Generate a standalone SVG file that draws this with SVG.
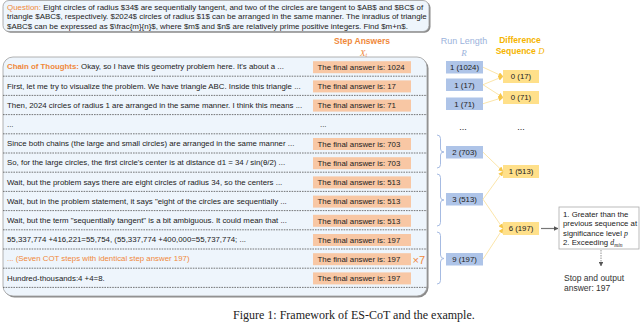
<svg xmlns="http://www.w3.org/2000/svg" width="640" height="322" viewBox="0 0 640 322">
<style>
text{font-family:"Liberation Sans",Arial,sans-serif;fill:#222}
.q{font-size:7.95px}
.row{font-size:7.85px}
.or{fill:#f0883a}
.ans{fill:#f8c7a4}
.rl{fill:#aec4e8}
.df{fill:#ffe08a}
.bx{font-size:7.8px;text-anchor:middle}
.dash{stroke:#555;stroke-width:0.8;stroke-dasharray:1.6 1}
.con{stroke:#fbe2a0;stroke-width:0.9;fill:none}
.brace{stroke:#a6bbe2;stroke-width:1;fill:none}
.serif{font-family:"Liberation Serif","Times New Roman",serif;font-style:italic}
</style>
<defs>
<marker id="ya" viewBox="0 0 6 6" refX="5.5" refY="3" markerWidth="5" markerHeight="5" orient="auto" markerUnits="userSpaceOnUse"><path d="M0,0 L6,3 L0,6 z" fill="#f5c64a"/></marker>
<marker id="ga" viewBox="0 0 6 6" refX="5.5" refY="3" markerWidth="4.5" markerHeight="4.5" orient="auto" markerUnits="userSpaceOnUse"><path d="M0,0 L6,3 L0,6 z" fill="#555"/></marker>
</defs>

<g id="question">
<rect x="4.5" y="1.8" width="426" height="31" rx="6" fill="#8a8a8a"/>
<rect x="3" y="0.5" width="426" height="31" rx="6" fill="#eef5fc" stroke="#9a9a9a" stroke-width="0.8"/>
<text class="q" x="7" y="10"><tspan class="or">Question:</tspan> Eight circles of radius $34$ are sequentially tangent, and two of the circles are tangent to $AB$ and $BC$ of</text>
<text class="q" x="7" y="19.4">triangle $ABC$, respectively. $2024$ circles of radius $1$ can be arranged in the same manner. The inradius of triangle</text>
<text class="q" x="7" y="28.7">$ABC$ can be expressed as $\frac{m}{n}$, where $m$ and $n$ are relatively prime positive integers. Find $m+n$.</text>
</g>

<g id="headers">
<text x="362" y="44" text-anchor="middle" font-size="8.5" font-weight="bold" style="fill:#f0883a">Step Answers</text>
<text x="360" y="55.5" class="serif" font-size="9" style="fill:#f0883a">X<tspan font-size="6" dy="1.5">t</tspan></text>
<text x="464" y="44" text-anchor="middle" font-size="9" style="fill:#9cb3dc">Run Length</text>
<text x="464" y="55.5" text-anchor="middle" class="serif" font-size="9" style="fill:#9cb3dc">R</text>
<text x="520" y="43" text-anchor="middle" font-size="8.5" font-weight="bold" style="fill:#f5b400">Difference</text>
<text x="520" y="53.5" text-anchor="middle" font-size="8.5" font-weight="bold" style="fill:#f5b400">Sequence <tspan class="serif" font-weight="normal">D</tspan></text>
</g>

<g id="cot-panel">
<rect x="4.5" y="58.5" width="424" height="239" rx="10" fill="#8a8a8a"/>
<rect x="3" y="57" width="424" height="239" rx="10" fill="#eef5fc" stroke="#a0a0a0" stroke-width="0.8"/>
<line class="dash" x1="3" y1="76.2" x2="427" y2="76.2"/>
<line class="dash" x1="3" y1="95.4" x2="427" y2="95.4"/>
<line class="dash" x1="3" y1="114.6" x2="427" y2="114.6"/>
<line class="dash" x1="3" y1="133.8" x2="427" y2="133.8"/>
<line class="dash" x1="3" y1="153" x2="427" y2="153"/>
<line class="dash" x1="3" y1="172.2" x2="427" y2="172.2"/>
<line class="dash" x1="3" y1="191.4" x2="427" y2="191.4"/>
<line class="dash" x1="3" y1="210.6" x2="427" y2="210.6"/>
<line class="dash" x1="3" y1="229.8" x2="427" y2="229.8"/>
<line class="dash" x1="3" y1="249" x2="427" y2="249"/>
<line class="dash" x1="3" y1="268.2" x2="427" y2="268.2"/>
<line class="dash" x1="3" y1="287.4" x2="427" y2="287.4"/>

<text class="row" x="7" y="69.4"><tspan class="or" font-weight="bold">Chain of Thoughts:</tspan> Okay, so I have this geometry problem here. It's about a ...</text>
<text class="row" x="7" y="88.6">First, let me try to visualize the problem. We have triangle ABC. Inside this triangle ...</text>
<text class="row" x="7" y="107.8">Then, 2024 circles of radius 1 are arranged in the same manner. I think this means ...</text>
<text class="row" x="7" y="127">...</text>
<text class="row" x="7" y="146.2">Since both chains (the large and small circles) are arranged in the same manner ...</text>
<text class="row" x="7" y="165.4">So, for the large circles, the first circle's center is at distance d1 = 34 / sin(θ/2) ...</text>
<text class="row" x="7" y="184.6">Wait, but the problem says there are eight circles of radius 34, so the centers ...</text>
<text class="row" x="7" y="203.8">Wait, but in the problem statement, it says "eight of the circles are sequentially ...</text>
<text class="row" x="7" y="223">Wait, but the term "sequentially tangent" is a bit ambiguous. It could mean that ...</text>
<text class="row" x="7" y="242.2">55,337,774 +416,221=55,754,  (55,337,774 +400,000=55,737,774; ...</text>
<text class="row or" x="7" y="261.4">... (Seven COT steps with identical step answer 197)</text>
<text class="row" x="7" y="280.6">Hundred-thousands:4 +4=8.</text>
</g>

<g id="step-answers">
<rect class="ans" x="313" y="61.2" width="98" height="12"/><text class="row" x="317.5" y="70">The final answer is: 1024</text>
<rect class="ans" x="313" y="80.4" width="98" height="12"/><text class="row" x="317.5" y="89.2">The final answer is: 17</text>
<rect class="ans" x="313" y="99.6" width="98" height="12"/><text class="row" x="317.5" y="108.4">The final answer is: 71</text>
<text class="row" x="320" y="127.4">...</text>
<rect class="ans" x="313" y="138" width="98" height="12"/><text class="row" x="317.5" y="146.8">The final answer is: 703</text>
<rect class="ans" x="313" y="157.2" width="98" height="12"/><text class="row" x="317.5" y="166">The final answer is: 703</text>
<rect class="ans" x="313" y="176.4" width="98" height="12"/><text class="row" x="317.5" y="185.2">The final answer is: 513</text>
<rect class="ans" x="313" y="195.6" width="98" height="12"/><text class="row" x="317.5" y="204.4">The final answer is: 513</text>
<rect class="ans" x="313" y="214.8" width="98" height="12"/><text class="row" x="317.5" y="223.6">The final answer is: 513</text>
<rect class="ans" x="313" y="234" width="98" height="12"/><text class="row" x="317.5" y="242.8">The final answer is: 197</text>
<rect class="ans" x="313" y="253.2" width="98" height="12"/><text class="row" x="317.5" y="262">The final answer is: 197</text>
<text x="412.5" y="264" font-size="11" style="fill:#f0883a">×7</text>
<rect class="ans" x="313" y="272.4" width="98" height="12"/><text class="row" x="317.5" y="281.2">The final answer is: 197</text>
</g>

<g id="braces">
<path class="brace" d="M437,135 Q440.5,135 440.5,138.5 L440.5,149 Q440.5,152 444,152 Q440.5,152 440.5,155 L440.5,164.5 Q440.5,168 437,168"/>
<path class="brace" d="M437,174 Q440.5,174 440.5,177.5 L440.5,197 Q440.5,200 444,200 Q440.5,200 440.5,203 L440.5,222.5 Q440.5,226 437,226"/>
<path class="brace" d="M437,232 Q440.5,232 440.5,235.5 L440.5,255 Q440.5,258.5 444,258.5 Q440.5,258.5 440.5,262 L440.5,280.5 Q440.5,284 437,284"/>
</g>

<g id="run-length">
<g id="r1"><rect class="rl" x="446" y="61" width="37" height="12.5"/><text class="bx" x="464.5" y="70">1 (1024)</text></g>
<g id="r2"><rect class="rl" x="446" y="78.5" width="37" height="12.5"/><text class="bx" x="464.5" y="87.5">1 (17)</text></g>
<g id="r3"><rect class="rl" x="446" y="97.5" width="37" height="12.5"/><text class="bx" x="464.5" y="106.5">1 (71)</text></g>
<text x="463" y="130" font-size="9" text-anchor="middle">...</text>
<g id="r4"><rect class="rl" x="446" y="146" width="37" height="12.5"/><text class="bx" x="464.5" y="155">2 (703)</text></g>
<g id="r5"><rect class="rl" x="446" y="193" width="37" height="12.5"/><text class="bx" x="464.5" y="202">3 (513)</text></g>
<g id="r6"><rect class="rl" x="446" y="253" width="37" height="12.5"/><text class="bx" x="464.5" y="262">9 (197)</text></g>
</g>

<g id="difference">
<g id="d1"><rect class="df" x="503" y="70" width="36" height="13"/><text class="bx" x="521" y="79.2">0 (17)</text></g>
<g id="d2"><rect class="df" x="503" y="91" width="36" height="13"/><text class="bx" x="521" y="100.2">0 (71)</text></g>
<text x="521" y="130" font-size="9" text-anchor="middle">...</text>
<g id="d3"><rect class="df" x="503" y="165" width="36" height="13"/><text class="bx" x="521" y="174.2">1 (513)</text></g>
<g id="d4"><rect class="df" x="503" y="222" width="36" height="13"/><text class="bx" x="521" y="231.2">6 (197)</text></g>
</g>

<g id="connectors">
<line class="con" x1="483" y1="67.2" x2="503" y2="76.5" marker-end="url(#ya)"/>
<line class="con" x1="483" y1="84.7" x2="503" y2="76.5" marker-end="url(#ya)"/>
<line class="con" x1="483" y1="84.7" x2="503" y2="97.5" marker-end="url(#ya)"/>
<line class="con" x1="483" y1="103.7" x2="503" y2="97.5" marker-end="url(#ya)"/>
<line class="con" x1="483" y1="152.2" x2="503" y2="171.5" marker-end="url(#ya)"/>
<line class="con" x1="483" y1="199.2" x2="503" y2="171.5" marker-end="url(#ya)"/>
<line class="con" x1="483" y1="199.2" x2="503" y2="228.5" marker-end="url(#ya)"/>
<line class="con" x1="483" y1="259.2" x2="503" y2="228.5" marker-end="url(#ya)"/>
<line x1="541" y1="228.5" x2="558" y2="228.5" stroke="#777" stroke-width="1.2" marker-end="url(#ga)"/>
<line x1="601" y1="250" x2="601" y2="266" stroke="#777" stroke-width="0.8" stroke-dasharray="1.5 1" marker-end="url(#ga)"/>
</g>

<g id="criteria">
<rect x="559" y="207" width="80" height="42" fill="#fff" stroke="#aaa" stroke-width="0.8"/>
<text x="563" y="216.5" font-size="7.8">1. Greater than the</text>
<text x="563" y="226" font-size="7.8">previous sequence at</text>
<text x="563" y="235.5" font-size="7.8">significance level <tspan class="serif">p</tspan></text>
<text x="563" y="245" font-size="7.8">2. Exceeding <tspan class="serif">d<tspan font-size="5.5" dy="1.5">min</tspan></tspan></text>
</g>

<g id="stop">
<text x="564" y="280.5" font-size="8.5" style="fill:#333">Stop and output</text>
<text x="564" y="290.5" font-size="8.5" style="fill:#333">answer: 197</text>
</g>

<text x="233" y="318.5" font-size="12" style="font-family:'Liberation Serif','Times New Roman',serif">Figure 1: Framework of ES-CoT and the example.</text>
</svg>
